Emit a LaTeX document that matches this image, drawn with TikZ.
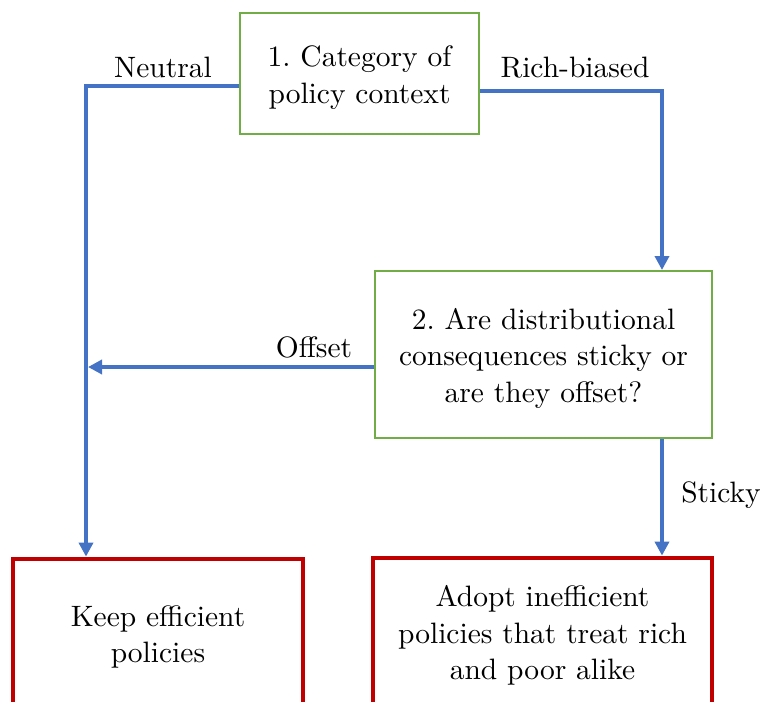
\documentclass[tikz,border=0pt]{standalone}
\usepackage{fontspec}
\setmainfont{lmroman10-regular}[Extension=.otf]
\usetikzlibrary{arrows.meta}
\definecolor{flowblue}{HTML}{4472C4}
\definecolor{boxgreen}{HTML}{70AD47}
\definecolor{boxred}{HTML}{C00000}
\frenchspacing
\newcommand{\lowtext}[1]{\raisebox{-4pt}[\height][\depth]{\begin{tabular}{@{}c@{}}#1\end{tabular}}}
\tikzset{
  qbox/.style={draw=boxgreen, line width=2pt, fill=white, align=center, inner sep=0pt},
  rbox/.style={draw=boxred, line width=4.8pt, fill=white, align=center, inner sep=0pt},
  flow/.style={draw=flowblue, line width=4pt, -{Triangle[length=14pt,width=14pt]}},
  lbl/.style={anchor=base, inner sep=0pt},
  every node/.style={font=\fontsize{29.5}{36.5}\selectfont}
}
\begin{document}
\begin{tikzpicture}[x=1pt,y=-1pt]
\useasboundingbox (0,0) rectangle (761,702);
\clip (0,0) rectangle (761,702);
\node[qbox, minimum width=239pt, minimum height=121pt] (box1) at (359.5,73.5) {\lowtext{1. Category of\\policy context}};
\node[qbox, minimum width=337pt, minimum height=167pt] (box2) at (543.5,354.5) {\lowtext{2. Are distributional\\consequences sticky or\\are they offset?}};
\node[rbox, minimum width=290pt, minimum height=148pt] (keep) at (158,633) {\lowtext{Keep efficient\\policies}};
\node[rbox, minimum width=339pt, minimum height=148pt] (adopt) at (542.5,632) {\lowtext{Adopt inefficient\\policies that treat rich\\and poor alike}};
\coordinate (nl) at (86,86);
\coordinate (rb) at (662,91);
\coordinate (off) at (88,367);
\draw[flow] (box1.west |- nl) -| (keep.north -| nl);
\draw[flow] (box1.east |- rb) -| (box2.north -| rb);
\draw[flow] (box2.west |- off) -- (off);
\draw[flow] (box2.south -| rb) -- (adopt.north -| rb);
\node[lbl] (lneutral) at (163,77) {Neutral};
\node[lbl] (lrich) at (575,77) {Rich-biased};
\node[lbl] (loffset) at (314,357) {Offset};
\node[lbl] (lsticky) at (721,502) {Sticky};
\end{tikzpicture}
\end{document}
